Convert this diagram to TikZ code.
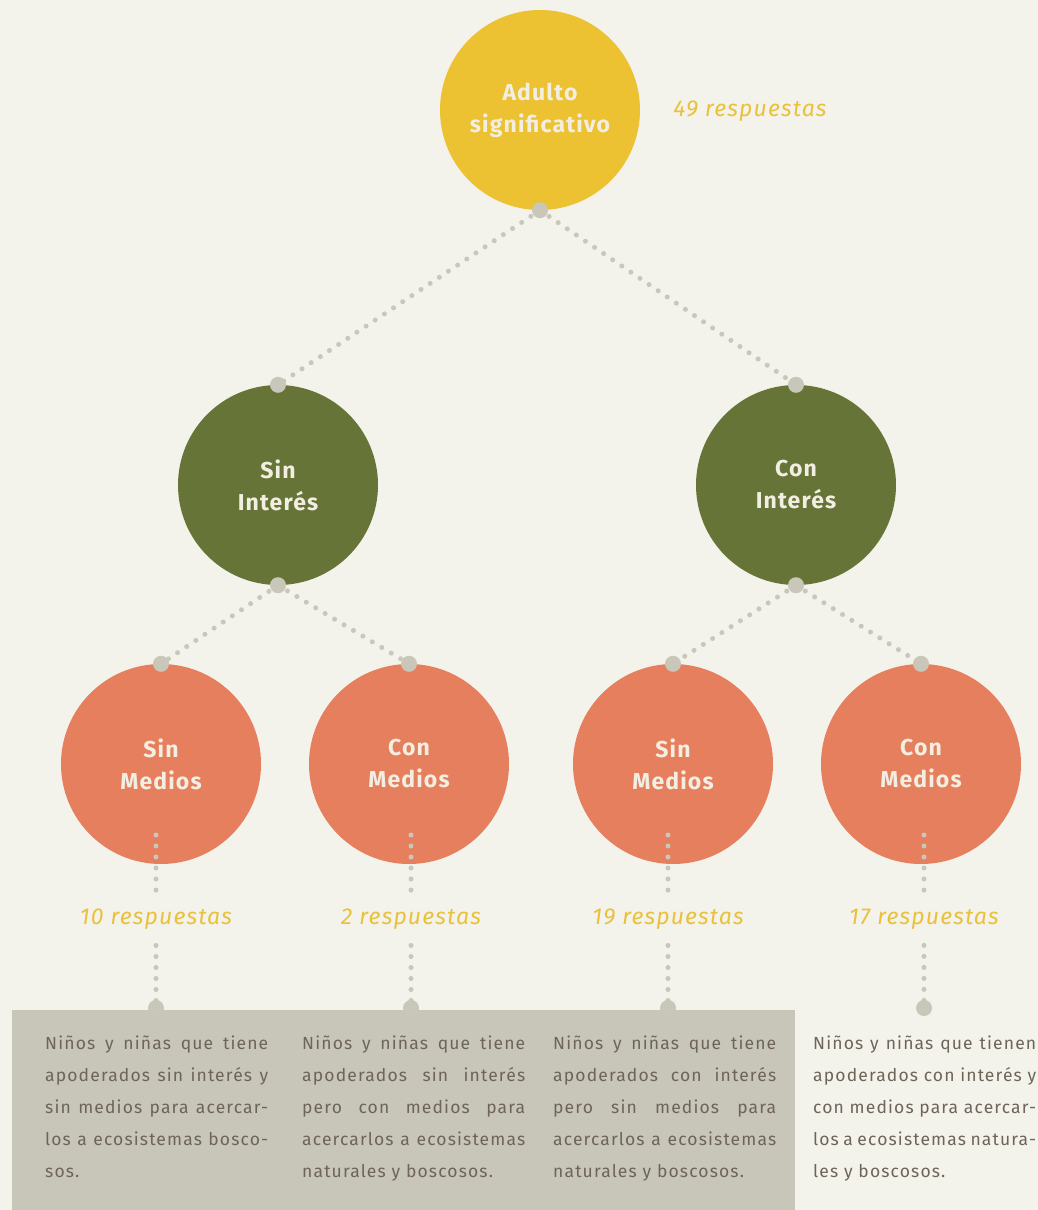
\documentclass[tikz,border=0pt]{standalone}
\usepackage{fontspec}
\setmainfont{Fira Sans}
\newfontfamily\bubblefont[LetterSpace=5]{Fira Sans}
\newfontfamily\blurbfont[LetterSpace=6.5]{Fira Sans}
\usetikzlibrary{positioning}
\definecolor{paper}{HTML}{F3F2EB}
\definecolor{panel}{HTML}{C7C6B9}
\definecolor{adultfill}{HTML}{ECC233}
\definecolor{interestfill}{HTML}{667537}
\definecolor{meansfill}{HTML}{E67F5D}
\definecolor{bubbletext}{HTML}{F3EEE2}
\definecolor{countcol}{HTML}{EAC13A}
\definecolor{dotcol}{HTML}{C8C7BA}
\definecolor{blurbcol}{HTML}{6E6459}
% one justified line of a description
\newcommand{\fullline}[1]{\makebox[223pt][s]{\spaceskip=0pt\xspaceskip=0pt\relax #1}}
\tikzset{
  bubble/.style={circle,minimum size=200pt,inner sep=0pt,align=center,
    text=bubbletext,font=\bubblefont\bfseries\fontsize{23}{32}\selectfont},
  adult/.style={bubble,fill=adultfill},
  interest/.style={bubble,fill=interestfill},
  means/.style={bubble,fill=meansfill},
  count/.style={text=countcol,inner ysep=16pt,
    font=\bubblefont\itshape\fontsize{23}{26}\selectfont},
  link/.style={draw=dotcol,line width=5pt,line cap=round,dash pattern=on 0pt off 11pt},
  knob/.style={circle,fill=dotcol,inner sep=0pt,minimum size=16pt},
  blurb/.style={anchor=north west,inner sep=0pt,text width=223pt,align=left,
    text=blurbcol,font=\blurbfont\fontsize{17.5}{32}\selectfont}
}
\begin{document}
\begin{tikzpicture}[x=1pt,y=-1pt]
  \fill[paper] (0,0) rectangle (1038,1210);
  \fill[panel] (12,1010) rectangle (795,1210);

  % circles
  \node[adult] (adulto) at (540,110) {Adulto\\significativo};
  \node[count] (n49) at (750,111) {49 respuestas};
  \node[interest] (sinint) at (278,485) {Sin\\Interés};
  \node[interest] (conint) at (796,485) {Con\\Interés};
  \node[means] (sinmed1) at (161,764) {Sin\\Medios};
  \node[means] (conmed1) at (409,764) {Con\\Medios};
  \node[means] (sinmed2) at (673,764) {Sin\\Medios};
  \node[means] (conmed2) at (921,764) {Con\\Medios};

  % dotted links between levels
  \draw[link] (adulto.south) -- (sinint.north);
  \draw[link] (adulto.south) -- (conint.north);
  \draw[link] (sinint.south) -- (sinmed1.north);
  \draw[link] (sinint.south) -- (conmed1.north);
  \draw[link] (conint.south) -- (sinmed2.north);
  \draw[link] (conint.south) -- (conmed2.north);
  \foreach \n in {adulto.south,sinint.north,conint.north,sinint.south,conint.south,
    sinmed1.north,conmed1.north,sinmed2.north,conmed2.north}
    \node[knob] at (\n) {};

  % answers under each group
  \foreach \id/\x/\num in {1/156/10,2/411/2,3/668/19,4/924/17} {
    \coordinate (top\id) at (\x,835);
    \coordinate (end\id) at (\x,1008);
    \node[count] (resp\id) at (\x,919) {\num{} respuestas};
    \draw[link] (top\id) -- (resp\id.north);
    \draw[link] (resp\id.south) -- (end\id);
    \node[knob] at (end\id) {};
  }

  % descriptions
  \node[blurb] (txt1) at (45,1036) {\fullline{Niños y niñas que tiene}\\
    \fullline{apoderados sin interés y}\\\fullline{sin medios para acercar-}\\
    \fullline{los a ecosistemas bosco-}\\sos.};
  \node[blurb] (txt2) at (302,1036) {\fullline{Niños y niñas que tiene}\\
    \fullline{apoderados sin interés}\\\fullline{pero con medios para}\\
    \fullline{acercarlos a ecosistemas}\\naturales y boscosos.};
  \node[blurb] (txt3) at (553,1036) {\fullline{Niños y niñas que tiene}\\
    \fullline{apoderados con interés}\\\fullline{pero sin medios para}\\
    \fullline{acercarlos a ecosistemas}\\naturales y boscosos.};
  \node[blurb] (txt4) at (813,1036) {\fullline{Niños y niñas que tienen}\\
    \fullline{apoderados con interés y}\\\fullline{con medios para acercar-}\\
    \fullline{los a ecosistemas natura-}\\les y boscosos.};
\end{tikzpicture}
\end{document}
